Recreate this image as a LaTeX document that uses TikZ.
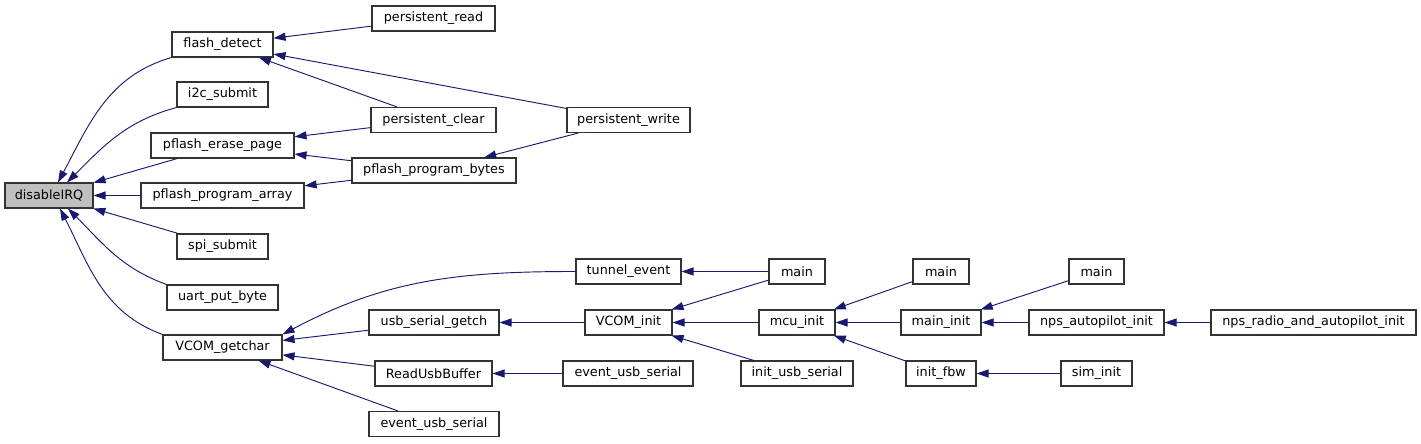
\documentclass[tikz,border=0pt]{standalone}
\usepackage{fontspec}
\setsansfont{DejaVu Sans}
\usetikzlibrary{arrows.meta}
\definecolor{edgeblue}{HTML}{191970}
\definecolor{boxline}{HTML}{333333}
\definecolor{rootgray}{HTML}{BFBFBF}
\tikzset{
  fn/.style={draw=boxline, line width=0.8pt, minimum width=#1*0.75pt,
    minimum height=18.75pt, inner sep=0pt,
    font=\sffamily\fontsize{9.6}{11}\selectfont},
  root/.style={fill=rootgray},
  call/.style={draw=edgeblue, line width=0.7pt, <-,
    >={Triangle[length=9pt,width=6pt]}}
}
\begin{document}
\begin{tikzpicture}[x=0.75pt,y=0.75pt]
  \useasboundingbox (0,0) rectangle (1421,443);
  % root
  \node[fn=88,root] (irq) at (49,247.5) {disableIRQ};
  % direct callers
  \node[fn=101] (fdet) at (222.5,398.5) {flash\_detect};
  \node[fn=91]  (i2c)  at (222.5,348.5) {i2c\_submit};
  \node[fn=143] (fep)  at (222.5,297.5) {pflash\_erase\_page};
  \node[fn=163] (fpa)  at (222.5,247.5) {pflash\_program\_array};
  \node[fn=91]  (spi)  at (222.5,196.5) {spi\_submit};
  \node[fn=111] (uart) at (222.5,145.5) {uart\_put\_byte};
  \node[fn=119] (vget) at (222.5,95.5)  {VCOM\_getchar};
  % third column
  \node[fn=123] (pread)  at (433.5,424.5) {persistent\_read};
  \node[fn=125] (pclear) at (433.5,323)   {persistent\_clear};
  \node[fn=164] (fpb)    at (434,272.5)   {pflash\_program\_bytes};
  \node[fn=130] (usbget) at (434,120.5)   {usb\_serial\_getch};
  \node[fn=117] (rub)    at (433.5,69.5)  {ReadUsbBuffer};
  \node[fn=130] (evusbA) at (434,19)      {event\_usb\_serial};
  % fourth column
  \node[fn=123] (pwrite) at (628.5,323)   {persistent\_write};
  \node[fn=105] (tunnel) at (628.5,171.5) {tunnel\_event};
  \node[fn=87]  (vinit)  at (628.5,120.5) {VCOM\_init};
  \node[fn=130] (evusbB) at (628,69.5)    {event\_usb\_serial};
  % further up the chain
  \node[fn=56]  (mainA) at (797,171.5)    {main};
  \node[fn=76]  (mcu)   at (797,120.5)    {mcu\_init};
  \node[fn=112] (iusb)  at (797,69.5)     {init\_usb\_serial};
  \node[fn=56]  (mainB) at (941,171.5)    {main};
  \node[fn=80]  (minit) at (941,120.5)    {main\_init};
  \node[fn=70]  (fbw)   at (941,69.5)     {init\_fbw};
  \node[fn=55]  (mainC) at (1096.5,171.5) {main};
  \node[fn=135] (npsap) at (1096.5,120.5) {nps\_autopilot\_init};
  \node[fn=71]  (sim)   at (1096.5,69.5)  {sim\_init};
  \node[fn=205] (npsrad) at (1313.5,120.5) {nps\_radio\_and\_autopilot\_init};

  % calls into disableIRQ
  \draw[call] ([xshift=6.75pt]irq.north) to[out=62,in=196] (fdet.south west);
  \draw[call] ([xshift=13.5pt]irq.north) to[out=45,in=195] (i2c.south west);
  \draw[call] (irq) -- (fep);
  \draw[call] (irq) -- (fpa);
  \draw[call] (irq) -- (spi);
  \draw[call] ([xshift=14.25pt]irq.south) to[out=-45,in=160] (uart.north west);
  \draw[call] ([xshift=8.25pt]irq.south) to[out=-63,in=160] (vget.north west);
  \draw[call] (vget.north east) to[out=28,in=180] (tunnel.west);
  % the rest
  \foreach \a/\b in {fdet/pread, fdet/pclear, fdet/pwrite, fep/pclear, fep/fpb,
      fpa/fpb, fpb/pwrite, vget/usbget, vget/rub, vget/evusbA, tunnel/mainA,
      usbget/vinit, rub/evusbB, vinit/mainA, vinit/mcu, vinit/iusb,
      mcu/mainB, mcu/minit, mcu/fbw, minit/mainC, minit/npsap,
      npsap/npsrad, fbw/sim}
    \draw[call] (\a) -- (\b);
\end{tikzpicture}
\end{document}
